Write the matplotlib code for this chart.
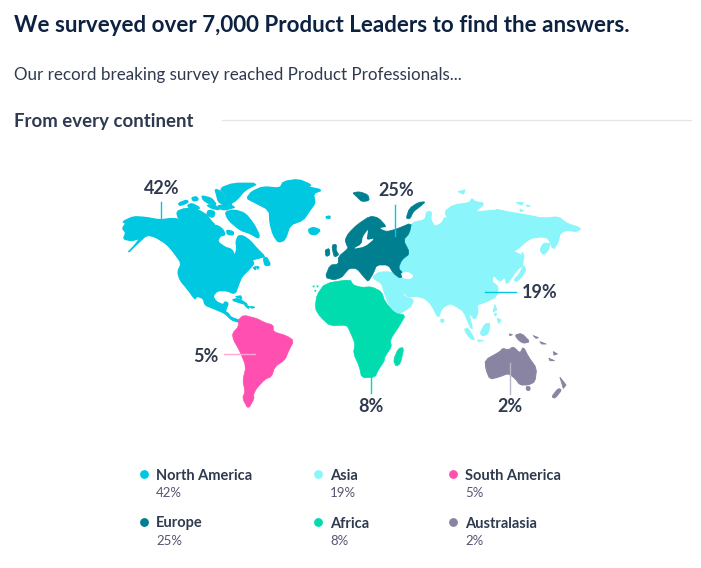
"""Survey reach by continent: world map with leader labels and a legend below."""

import matplotlib
matplotlib.use("Agg")
import matplotlib.pyplot as plt
from matplotlib.patches import Polygon, Circle

plt.rcParams["font.family"] = ["Lato", "DejaVu Sans"]

# Data
CONTINENTS = ["North America", "Asia", "South America", "Europe", "Africa", "Australasia"]
SHARES = [42, 19, 5, 25, 8, 2]
COLORS = ["#00c8e0", "#8af5fa", "#ff4fb0", "#007f90", "#00dcae", "#8a84a3"]

# Map outlines, traced at 3x from the picture (west and east crops)
WEST = (110, 170)
EAST = (310, 170)

NORTH_AMERICA = [
    [(37,175),(48,160),(38,155),(70,140),(105,142),(150,150),(185,145),(225,150),(265,165),(300,163),
     (325,168),(340,180),(345,195),(330,198),(322,215),(345,232),(365,238),(375,258),(381,235),(378,215),
     (385,197),(400,198),(420,212),(440,235),(465,260),(455,262),(425,270),(432,280),(420,295),(395,320),
     (385,345),(375,372),(350,362),(322,362),(308,378),(318,395),(340,405),(345,395),(355,400),(345,425),
     (355,430),(362,442),(392,452),(385,456),(365,450),(345,430),(310,415),(285,405),(280,385),(260,378),
     (255,388),(235,360),(210,330),(203,305),(215,280),(190,245),(170,222),(135,200),(110,195),(85,218),
     (52,250),(75,225),(90,205),(65,212),(40,207),(48,188)],
    [(460,265),(470,262),(482,285),(465,287)],
    [(200,125),(225,115),(265,120),(290,135),(305,155),(315,165),(285,160),(255,165),(230,155),(205,145)],
    [(205,100),(230,90),(235,97),(210,107)],
    [(232,107),(245,100),(270,113),(260,120),(240,115)],
    [(245,83),(260,80),(265,90),(250,93)],
    [(275,77),(305,85),(320,105),(295,100),(280,90)],
    [(290,105),(315,105),(330,120),(305,115)],
    [(295,120),(315,125),(310,143),(290,135)],
    [(315,57),(335,65),(345,85),(370,110),(345,107),(325,95),(320,75)],
    [(330,55),(370,40),(445,40),(405,60),(380,90),(355,105),(345,75)],
    [(325,105),(380,110),(345,120),(325,115)],
    [(345,125),(375,120),(405,130),(430,160),(448,195),(445,205),(420,190),(390,180),(355,150)],
    [(350,180),(370,185),(370,195),(352,193)],
    [(425,65),(460,50),(510,55),(520,35),(565,28),(605,45),(590,50),(637,60),(610,70),(615,100),
     (600,120),(580,150),(540,165),(525,210),(505,217),(490,195),(480,160),(478,120),(430,95),(410,85)],
    [(595,178),(610,172),(632,180),(618,194),(600,192)],
    [(648,140),(660,138),(660,145),(650,145)],
    [(365,390),(385,385),(415,405),(395,400)],
    [(405,406),(418,410),(415,415)],
    [(422,410),(433,412),(425,414)],
    [(378,380),(392,378),(395,386)],
    [(430,293),(438,290),(436,299)],
    [(441,289),(447,292),(442,297)],
]

SOUTH_AMERICA = [
    [(400,435),(440,445),(465,458),(490,465),(490,485),(530,497),(552,512),(535,545),(525,570),(495,590),
     (485,620),(465,628),(440,655),(430,675),(433,685),(415,718),(397,685),(405,665),(398,630),(408,590),
     (390,545),(370,510),(367,490),(385,470),(385,450)],
]

EUROPE = [
    [(105,210),(115,190),(140,165),(180,138),(205,143),(230,170),(212,172),(210,177),(230,185),(260,177),
     (305,158),(298,190),(280,210),(300,250),(275,270),(265,295),(280,310),(272,326),(250,310),(235,285),
     (200,285),(190,310),(175,335),(165,325),(140,295),(118,295),(105,310),(95,322),(72,330),(45,322),
     (60,285),(85,283),(85,260),(115,235),(110,225)],
    [(65,225),(80,223),(78,240),(87,255),(72,262)],
    [(45,240),(58,235),(60,255),(48,260)],
    [(288,145),(298,115),(325,97),(347,95),(330,110),(310,125),(300,147)],
    [(127,68),(150,65),(175,75),(178,92),(155,95),(140,80)],
]

ASIA = [
    [(190,320),(205,307),(240,305),(262,322),(278,323),(265,295),(275,270),(300,250),(280,210),(298,190),
     (305,158),(345,150),(350,125),(365,125),(362,150),(375,170),(395,160),(405,140),(420,160),(403,125),
     (430,105),(480,98),(485,85),(495,95),(525,100),(495,125),(510,125),(555,120),(590,125),(620,130),
     (650,135),(700,145),(745,140),(770,160),(814,175),(800,185),(770,180),(750,190),(745,215),(730,240),
     (715,205),(695,200),(660,205),(625,235),(610,245),(635,255),(640,285),(620,300),(590,345),(585,320),
     (570,335),(550,315),(545,335),(565,350),(560,380),(530,395),(500,405),(505,425),(495,450),(475,425),
     (488,478),(480,470),(462,425),(440,410),(420,400),(395,415),(385,445),(365,405),(345,385),(315,378),
     (295,382),(277,362),(283,380),(312,390),(300,412),(262,435),(240,410),(222,365),(215,340),(190,325)],
    [(640,285),(648,300),(635,320),(620,335),(612,330),(630,310)],
    [(637,245),(642,260),(638,275),(635,260)],
    [(690,240),(700,220),(720,220),(715,240),(700,255)],
    [(555,405),(560,420),(550,425)],
    [(562,445),(573,450),(566,460)],
    [(510,490),(525,462),(540,460),(535,490),(520,498)],
    [(462,478),(475,475),(495,510),(480,505)],
    [(503,510),(520,512),(505,514)],
    [(392,448),(402,448),(400,457),(393,456)],
    [(445,65),(465,60),(460,72)],
    [(620,98),(640,98),(635,105)],
    [(650,105),(660,108),(652,110)],
    [(560,118),(590,125),(570,125)],
    [(630,118),(640,122),(632,124)],
    [(553,430),(560,432),(556,438)],
]

AFRICA = [
    [(45,340),(120,328),(130,345),(155,352),(185,350),(215,365),(225,395),(255,430),(287,435),(270,465),
     (240,510),(245,530),(225,560),(222,575),(205,600),(195,622),(155,624),(148,590),(130,550),(135,520),
     (120,485),(110,465),(60,468),(30,440),(15,415),(20,375)],
    [(265,535),(282,532),(272,580),(258,590),(250,570)],
    [(8,349),(13,347),(12,352)],
    [(20,347),(25,348),(22,352)],
    [(14,361),(19,362),(15,365)],
]

AUSTRALASIA = [
    [(525,570),(570,545),(578,535),(595,540),(610,530),(630,550),(640,530),(655,560),(680,595),(675,635),
     (655,645),(630,645),(615,625),(595,610),(570,620),(540,628),(528,600)],
    [(648,650),(660,650),(660,661),(650,661)],
    [(750,622),(768,645),(760,655)],
    [(745,655),(755,660),(735,685),(725,680)],
    [(615,495),(635,490),(660,515),(640,520),(625,510)],
    [(670,497),(685,503),(678,505)],
    [(690,515),(708,522),(695,522)],
    [(730,545),(742,552),(732,555)],
    [(717,565),(733,572),(720,572)],
    [(598,492),(607,494),(600,497)],
]

# White gaps cut over the land (Baltic, Caspian)
INLAND_WATER = [
    [(175,177),(158,200),(155,222),(128,237),(165,230),(195,205),(170,210),(172,195)],
    [(272,308),(295,305),(312,318),(300,328),(278,325)],
]

TEXT_DARK = "#2f3a4f"
TITLE_COLOR = "#0d2240"
VALUE_COLOR = "#5a5272"


def to_px(points, origin):
    return [(origin[0] + x / 3, origin[1] + y / 3) for x, y in points]


def soften(points):
    # One pass of corner cutting so traced outlines lose their hard angles
    if len(points) < 4:
        return points
    out = []
    for (x0, y0), (x1, y1) in zip(points, points[1:] + points[:1]):
        out.append((0.8 * x0 + 0.2 * x1, 0.8 * y0 + 0.2 * y1))
        out.append((0.2 * x0 + 0.8 * x1, 0.2 * y0 + 0.8 * y1))
    return out


fig = plt.figure(figsize=(7.01, 5.68), dpi=100)
ax = fig.add_axes([0, 0, 1, 1])
ax.set_xlim(0, 701)
ax.set_ylim(568, 0)
ax.axis("off")

# Header
ax.text(14, 25, "We surveyed over 7,000 Product Leaders to find the answers.",
        fontsize=16.1, fontweight="bold", color=TITLE_COLOR, va="center")
ax.text(14, 75, "Our record breaking survey reached Product Professionals...",
        fontsize=12.25, color=TEXT_DARK, va="center")
ax.text(14, 121, "From every continent", fontsize=13.4, fontweight="bold", color=TEXT_DARK, va="center")
ax.plot([222, 691], [119.5, 119.5], color="#e4e4e4", linewidth=0.9)

# Map
for shapes, origin, color, edge in [
    (ASIA, EAST, COLORS[1], 0.8),
    (NORTH_AMERICA, WEST, COLORS[0], 1.0),
    (SOUTH_AMERICA, WEST, COLORS[2], 0.4),
    (EUROPE, EAST, COLORS[3], 0.5),
    (AFRICA, EAST, COLORS[4], 0.4),
    (AUSTRALASIA, EAST, COLORS[5], 0.7),
]:
    for shape in shapes:
        ax.add_patch(Polygon(to_px(soften(shape), origin), closed=True, facecolor=color,
                             edgecolor=color, linewidth=edge, joinstyle="round"))
for shape in INLAND_WATER:
    ax.add_patch(Polygon(to_px(soften(shape), EAST), closed=True, facecolor="white", edgecolor="none"))

# Leader lines and big labels
for x, y, color in [
    ([160.5, 160.5], [202, 233], "#00c8e0"),
    ([224, 255], [354, 354], "#ffa6d8"),
    ([394.5, 394.5], [205, 236], "#00c8e0"),
    ([485, 516], [292, 292], "#00c8e0"),
    ([370.5, 370.5], [362, 393], "#00dcae"),
    ([509.5, 509.5], [363, 394], "#b9b6c8"),
]:
    ax.plot(x, y, color=color, linewidth=1)

label_pos = {
    "North America": (162, 188),
    "South America": (206, 356),
    "Europe": (396, 191),
    "Asia": (540, 293),
    "Africa": (371, 406),
    "Australasia": (510, 407),
}
for name, share in zip(CONTINENTS, SHARES):
    x, y = label_pos[name]
    ax.text(x, y, f"{share}%", fontsize=13, fontweight="bold", color=TEXT_DARK, ha="center", va="center")

# Legend, three columns across two rows
legend_x = [144.5, 318.5, 453.5]
legend_y = [474.5, 522.5]
for i, (name, share, color) in enumerate(zip(CONTINENTS, SHARES, COLORS)):
    col, row = i % 3, i // 3
    cx, cy = legend_x[col], legend_y[row]
    ax.add_patch(Circle((cx, cy), 4.4, facecolor=color, edgecolor="none"))
    ax.text(cx + 11.5, cy + 1, name, fontsize=10.5, fontweight="bold", color=TEXT_DARK, va="center")
    ax.text(cx + 11.5, cy + 18.5, f"{share}%", fontsize=9.5, color=VALUE_COLOR, va="center")

fig.savefig("out.png", dpi=100, facecolor="white")
